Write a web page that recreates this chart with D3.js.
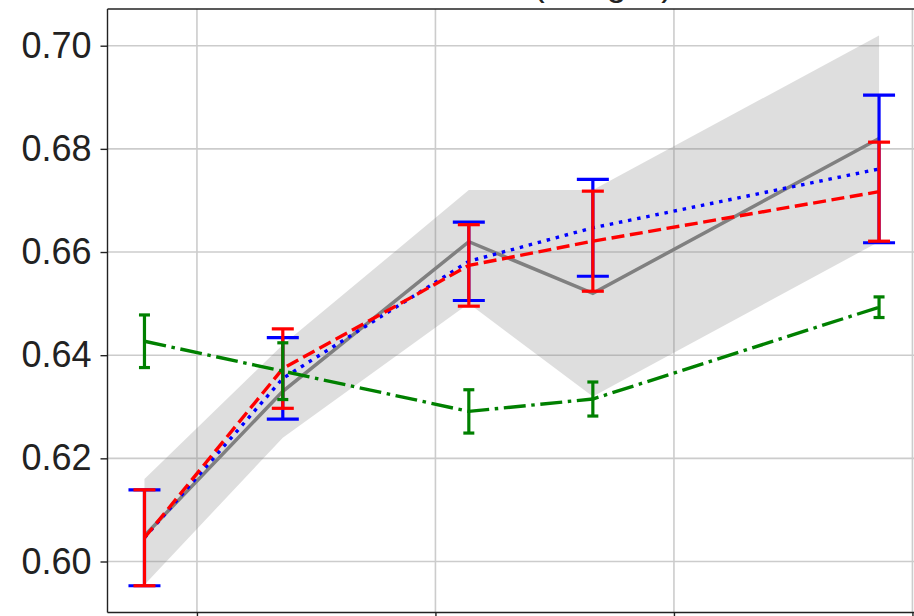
<!DOCTYPE html>
<html><head><meta charset="utf-8">
<script src="https://cdn.jsdelivr.net/npm/d3@7"></script>
<style>html,body{margin:0;padding:0;background:#fff;overflow:hidden}</style>
</head><body><svg id="chart" width="914" height="616"></svg>
<script>
// ---- data ----
const xValues = [0.78, 1.36, 2.14, 2.66, 3.86];
const xTicks = [1, 2, 3, 4];
const yTicks = [0.60, 0.62, 0.64, 0.66, 0.68, 0.70];
const titleText = "Macro F1 (Bengali)";
const meanValues = [0.605, 0.633, 0.662, 0.652, 0.682];
const bandLower = [0.5955, 0.624, 0.650, 0.632, 0.662];
const bandUpper = [0.616, 0.642, 0.672, 0.672, 0.702];
const blueValues = [0.6046, 0.6355, 0.6582, 0.6647, 0.6761];
const blueErr = [0.0093, 0.0079, 0.0076, 0.0094, 0.0143];
const redValues = [0.6046, 0.6374, 0.6574, 0.6621, 0.6717];
const redErr = [0.0093, 0.0077, 0.0079, 0.0097, 0.0096];
const greenValues = [0.6427, 0.6369, 0.6291, 0.6315, 0.6493];
const greenErr = [0.0051, 0.0055, 0.0042, 0.0033, 0.0020];

// ---- layout ----
const plot = {left: 107.5, top: 9, right: 960, bottom: 612.5};
const svg = d3.select("#chart");
const x = d3.scaleLinear().domain([0.625, 4.2]).range([plot.left, plot.left + 3.575 * 238.5]);
const y = d3.scaleLinear().domain([0.60, 0.70]).range([561.5, 45.7]);
const font = "'Liberation Sans', Arial, Helvetica, sans-serif";

// grid
const grid = svg.append("g");
grid.selectAll("line.gy").data(yTicks).join("line")
  .attr("x1", plot.left).attr("x2", plot.right)
  .attr("y1", d => y(d)).attr("y2", d => y(d))
  .attr("stroke", "#cccccc").attr("stroke-width", 1.6);
grid.selectAll("line.gx").data(xTicks).join("line")
  .attr("x1", d => x(d)).attr("x2", d => x(d))
  .attr("y1", plot.top).attr("y2", plot.bottom)
  .attr("stroke", "#cccccc").attr("stroke-width", 1.6);

// band
const idx = d3.range(xValues.length);
svg.append("path").datum(idx)
  .attr("d", d3.area().x(i => x(xValues[i])).y0(i => y(bandLower[i])).y1(i => y(bandUpper[i])))
  .attr("fill", "#808080").attr("fill-opacity", 0.26);
svg.append("path").datum(idx)
  .attr("d", d3.line().x(i => x(xValues[i])).y(i => y(meanValues[i])))
  .attr("fill", "none").attr("stroke", "#808080").attr("stroke-width", 3.5);

function series(vals, errs, color, dash, cap) {
  const g = svg.append("g");
  g.append("path").datum(idx)
    .attr("d", d3.line().x(i => x(xValues[i])).y(i => y(vals[i])))
    .attr("fill", "none").attr("stroke", color).attr("stroke-width", 3.4)
    .attr("stroke-dasharray", dash);
  const eb = g.selectAll("g.eb").data(idx).join("g");
  eb.append("line")
    .attr("x1", i => x(xValues[i])).attr("x2", i => x(xValues[i]))
    .attr("y1", i => y(vals[i] - errs[i])).attr("y2", i => y(vals[i] + errs[i]))
    .attr("stroke", color).attr("stroke-width", 3.2);
  [-1, 1].forEach(s => {
    eb.append("line")
      .attr("x1", i => x(xValues[i]) - cap).attr("x2", i => x(xValues[i]) + cap)
      .attr("y1", i => y(vals[i] + s * errs[i])).attr("y2", i => y(vals[i] + s * errs[i]))
      .attr("stroke", color).attr("stroke-width", 3.2);
  });
}
series(blueValues, blueErr, "#0000ff", "3.5,5.8", 16);
series(redValues, redErr, "#ff0000", "13,5.6", 11);
series(greenValues, greenErr, "#008000", "22,5.6,3.5,5.6", 5.5);

// spines
svg.append("line").attr("x1", plot.left).attr("x2", plot.left).attr("y1", plot.top).attr("y2", plot.bottom)
  .attr("stroke", "#222").attr("stroke-width", 1.4);
svg.append("line").attr("x1", plot.left).attr("x2", plot.right).attr("y1", plot.top).attr("y2", plot.top)
  .attr("stroke", "#222").attr("stroke-width", 1.4);
svg.append("line").attr("x1", plot.left).attr("x2", plot.right).attr("y1", plot.bottom).attr("y2", plot.bottom)
  .attr("stroke", "#222").attr("stroke-width", 1.4);

// axes
const yAxis = svg.append("g").attr("transform", `translate(${plot.left},0)`)
  .call(d3.axisLeft(y).tickValues(yTicks).tickFormat(d3.format(".2f")).tickSize(7).tickPadding(9));
yAxis.select(".domain").remove();
yAxis.selectAll(".tick line").attr("stroke", "#222").attr("stroke-width", 1.4);
yAxis.selectAll(".tick text").attr("fill", "#222").style("font-family", font).style("font-size", "36px");

const xAxis = svg.append("g").attr("transform", `translate(0,${plot.bottom})`)
  .call(d3.axisBottom(x).tickValues(xTicks).tickFormat("").tickSize(7));
xAxis.select(".domain").remove();
xAxis.selectAll(".tick line").attr("stroke", "#222").attr("stroke-width", 1.4);

// title (mostly above the visible area, as in the reference crop)
svg.append("text").attr("x", 673).attr("y", -4).attr("text-anchor", "end")
  .style("font-family", font).style("font-size", "35px").attr("fill", "#222").text(titleText);
</script></body></html>
